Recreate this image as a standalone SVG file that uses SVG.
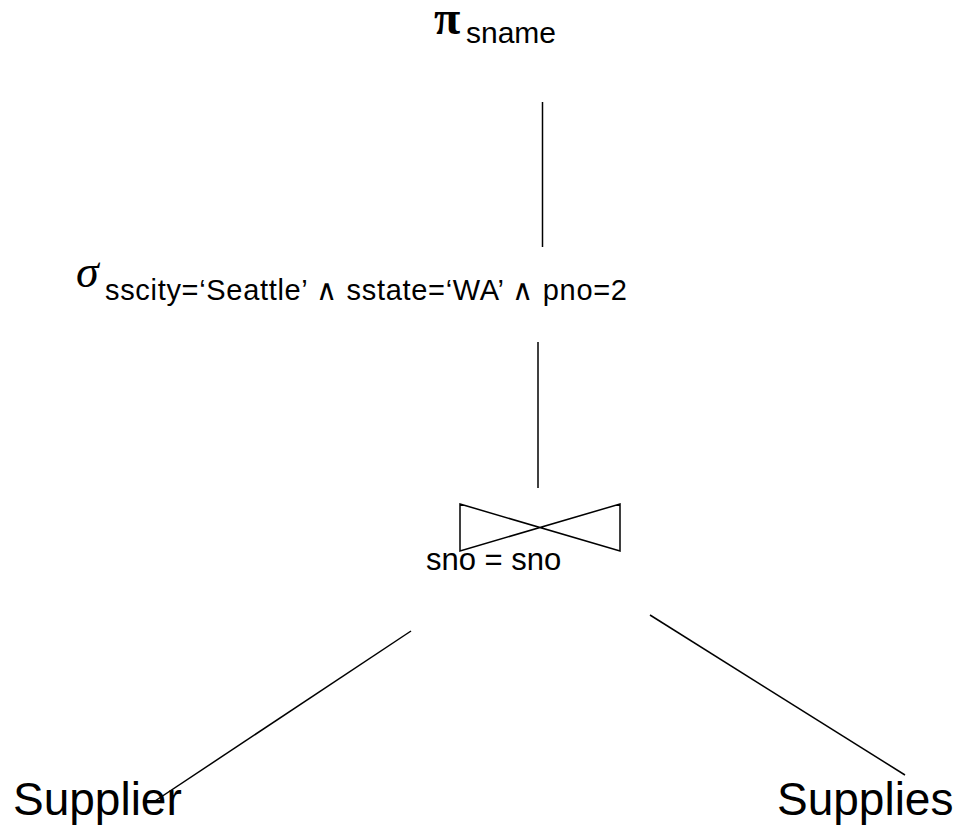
<svg xmlns="http://www.w3.org/2000/svg" width="961" height="825" viewBox="0 0 961 825">
<style>
.t{font-family:"Liberation Sans",Arial,sans-serif;fill:#000}
.g{font-family:"Liberation Serif","Times New Roman",serif;fill:#000}
.ln{stroke:#000;stroke-width:1.5;fill:none}
</style>
<rect width="961" height="825" fill="#fff"/>
<g id="connectors">
<line class="ln" x1="542.5" y1="102" x2="542.5" y2="247"/>
<line class="ln" x1="538" y1="342" x2="538" y2="488"/>
<line class="ln" x1="411" y1="631" x2="155" y2="801"/>
<line class="ln" x1="650" y1="615" x2="905" y2="775"/>
</g>
<g id="project">
<text class="g" x="434" y="34" font-size="48" font-weight="bold">π</text>
<text class="t" x="466" y="43" font-size="30">sname</text>
</g>
<g id="select">
<text class="g" x="76" y="287" font-size="46" font-style="italic">σ</text>
<text class="t" x="105" y="300" font-size="29" textLength="522" lengthAdjust="spacing">sscity=‘Seattle’ ∧  sstate=‘WA’ ∧  pno=2</text>
</g>
<g id="join">
<path class="ln" d="M460 504 L620 551 L620 504 L460 551 Z"/>
<text class="t" x="426" y="570" font-size="31">sno = sno</text>
</g>
<g id="supplier">
<text class="t" x="13" y="815" font-size="46">Supplier</text>
</g>
<g id="supplies">
<text class="t" x="777" y="815" font-size="46">Supplies</text>
</g>
</svg>
